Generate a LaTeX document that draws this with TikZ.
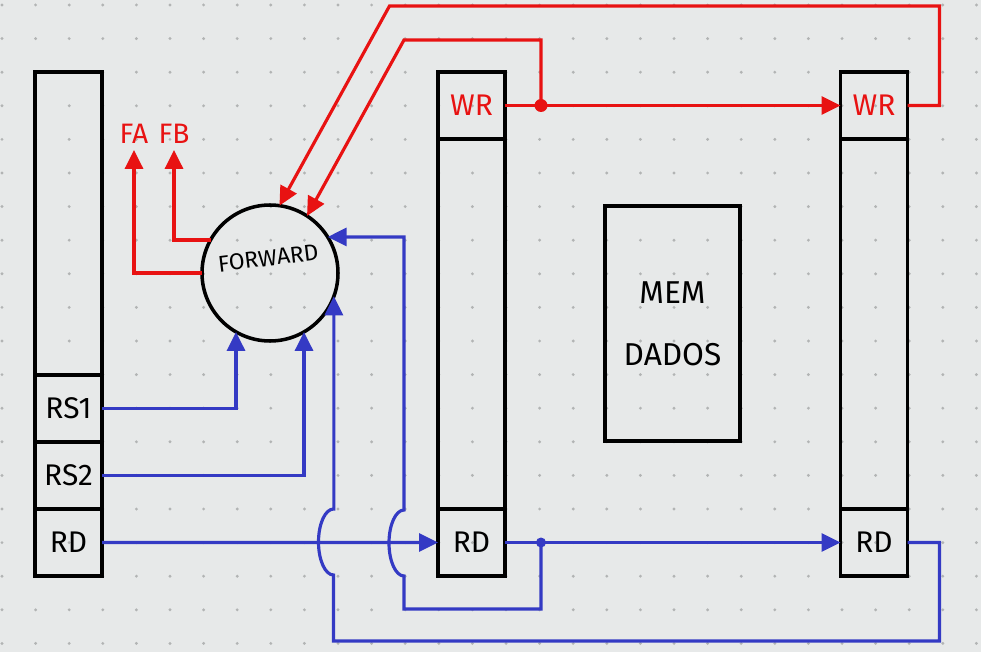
\documentclass[tikz,border=0pt]{standalone}
\usepackage{fontspec}
\setmainfont{Fira Sans}
\usetikzlibrary{arrows.meta, positioning, calc}

\definecolor{paper}{RGB}{231,233,233}
\definecolor{griddot}{RGB}{178,180,180}
\definecolor{wred}{RGB}{232,18,18}
\definecolor{wblue}{RGB}{52,58,196}

\begin{document}
\begin{tikzpicture}[
    x=0.2mm, y=-0.2mm,
    font=\fontsize{17}{20}\selectfont,
    cell/.style ={rectangle, draw, line width=2pt, outer sep=0pt, inner sep=0pt,
                  minimum width=13.4mm, minimum height=13.4mm},
    body/.style ={cell, minimum height=#1},
    ctrl/.style ={wred, line width=1.8pt},
    data/.style ={wblue, line width=1.8pt},
    arr/.style  ={-{Triangle[length=3.8mm, width=3.6mm]}}
]
% paper with dot grid
\useasboundingbox (0,0) rectangle (981,652);
\fill[paper] (0,0) rectangle (981,652);
\foreach \i in {0,...,29}
  \foreach \j in {0,...,19}
    \fill[griddot] (2+33.6*\i, 5+33.6*\j) circle[radius=0.32mm];

% ID/EX register
\node[body=60.6mm] (lbody) at (68.5,223.5) {};
\node[cell, below=0pt of lbody] (rs1) {RS1};
\node[cell, below=0pt of rs1]   (rs2) {RS2};
\node[cell, below=0pt of rs2]   (lrd) {RD};

% EX/MEM register
\node[cell, text=wred] (mwr) at (471.5,105.5) {WR};
\node[body=74mm, below=0pt of mwr] (mbody) {};
\node[cell, below=0pt of mbody]    (mrd)   {RD};

% MEM/WB register
\node[cell, text=wred] (rwr) at (874,105.5) {WR};
\node[body=74mm, below=0pt of rwr] (rbody) {};
\node[cell, below=0pt of rbody]    (rrd)   {RD};

% data memory
\node[rectangle, draw, line width=2pt, minimum width=27mm, minimum height=47mm,
      align=center, font=\fontsize{18}{21}\selectfont] (mem) at (672.5,323.5) {MEM\\[5mm]DADOS};

% forwarding unit
\node[circle, draw, line width=2pt, minimum size=27.2mm, inner sep=0pt, outer sep=0pt] (fwd) at (270,273) {};
\node[rotate=7, font=\fontsize{13}{15}\selectfont, yshift=3mm] (fwdname) at (fwd) {FORWARD};

% outputs
\node[text=wred, font=\fontsize{16}{18}\selectfont] (fa) at (134,134) {FA};
\node[text=wred, font=\fontsize{16}{18}\selectfont] (fb) at (174,134) {FB};

% taps
\coordinate (wrtap) at (541,105.5);
\coordinate (rdtap) at (541,542.5);

% control (red)
\draw[ctrl, arr] (fwd.west) -| (fa.south);
\draw[ctrl, arr] (fwd.151)  -| (fb.south);
\draw[ctrl, arr] (mwr.east) -- (rwr.west);
\draw[ctrl, arr] (wrtap) |- ++(-137,-65.5) -- (fwd.57);
\draw[ctrl, arr] (rwr.east) -| ++(32,-99.5) -- ++(-550,0) -- (fwd.82);
\fill[wred] (wrtap) circle[radius=1.3mm];

% data (blue)
\draw[data, arr] (rs1.east) -| (fwd.240);
\draw[data, arr] (rs2.east) -| (fwd.300);
\draw[data, arr] (lrd.east) -- (mrd.west);
\draw[data, arr] (mrd.east) -- (rrd.west);
\draw[data, arr] (rdtap) |- ++(-137,66.5) -- ++(0,-33)
    arc[start angle=90, end angle=270, x radius=15, y radius=33] |- (fwd.32);
\draw[data, arr] (rrd.east) -| ++(32,98.5) -- ++(-606,0) -- ++(0,-66)
    arc[start angle=90, end angle=270, x radius=15, y radius=33] -| (fwd.-20);
\fill[wblue] (rdtap) circle[radius=1mm];
\end{tikzpicture}
\end{document}
